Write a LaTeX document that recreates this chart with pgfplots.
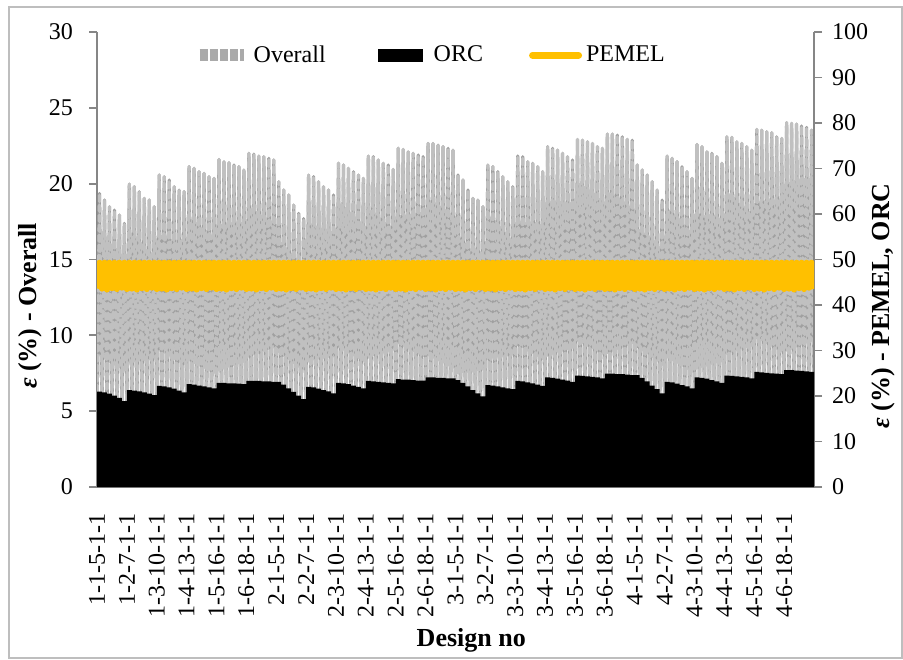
\documentclass[border=0pt]{standalone}
\usepackage{fontspec}
\setmainfont{Liberation Serif}
\usepackage{pgfplots}
\usepackage{pgfplotstable}
\pgfplotsset{compat=1.18}
\definecolor{ovgray}{RGB}{192,192,192}
\definecolor{ovdark}{RGB}{160,160,160}
\definecolor{ovleg}{RGB}{170,170,170}
\definecolor{axgray}{RGB}{134,134,134}
\definecolor{pemel}{RGB}{255,192,0}
\definecolor{framegray}{RGB}{190,190,190}

\pgfplotstableread[row sep=\\]{
x ov pe\\
0 5 43.6\\
0.5 19.36 49.3\\ 1 5 43.6\\ 1.5 18.92 49.3\\ 2 5 43.4\\ 2.5 18.48 49.3\\ 3 5 43.7\\ 3.5 18.26 49.3\\ 4 5 43.5\\ 4.5 17.93 49.3\\ 5 5 43.8\\ 5.5 17.38 49.3\\ 6 5 43.5\\
6.5 19.97 49.3\\ 7 5 43.6\\ 7.5 19.80 49.3\\ 8 5 43.4\\ 8.5 19.47 49.3\\ 9 5 43.7\\ 9.5 19.03 49.3\\ 10 5 43.5\\ 10.5 18.92 49.3\\ 11 5 43.8\\ 11.5 18.48 49.3\\ 12 5 43.5\\
12.5 20.57 49.3\\ 13 5 43.6\\ 13.5 20.46 49.3\\ 14 5 43.4\\ 14.5 20.24 49.3\\ 15 5 43.7\\ 15.5 19.80 49.3\\ 16 5 43.5\\ 16.5 19.58 49.3\\ 17 5 43.8\\ 17.5 19.47 49.3\\ 18 5 43.5\\
18.5 21.12 49.3\\ 19 5 43.6\\ 19.5 21.01 49.3\\ 20 5 43.4\\ 20.5 20.79 49.3\\ 21 5 43.7\\ 21.5 20.68 49.3\\ 22 5 43.5\\ 22.5 20.46 49.3\\ 23 5 43.8\\ 23.5 20.35 49.3\\ 24 5 43.5\\
24.5 21.60 49.3\\ 25 5 43.6\\ 25.5 21.45 49.3\\ 26 5 43.4\\ 26.5 21.38 49.3\\ 27 5 43.7\\ 27.5 21.23 49.3\\ 28 5 43.5\\ 28.5 21.12 49.3\\ 29 5 43.8\\ 29.5 20.90 49.3\\ 30 5 43.5\\
30.5 22.00 49.3\\ 31 5 43.6\\ 31.5 21.95 49.3\\ 32 5 43.4\\ 32.5 21.82 49.3\\ 33 5 43.7\\ 33.5 21.78 49.3\\ 34 5 43.5\\ 34.5 21.67 49.3\\ 35 5 43.8\\ 35.5 21.56 49.3\\ 36 5 43.5\\
36.5 20.13 49.3\\ 37 5 43.6\\ 37.5 19.58 49.3\\ 38 5 43.4\\ 38.5 19.25 49.3\\ 39 5 43.7\\ 39.5 18.59 49.3\\ 40 5 43.5\\ 40.5 18.04 49.3\\ 41 5 43.8\\ 41.5 17.70 49.3\\ 42 5 43.5\\
42.5 20.57 49.3\\ 43 5 43.6\\ 43.5 20.46 49.3\\ 44 5 43.4\\ 44.5 20.13 49.3\\ 45 5 43.7\\ 45.5 19.80 49.3\\ 46 5 43.5\\ 46.5 19.58 49.3\\ 47 5 43.8\\ 47.5 19.25 49.3\\ 48 5 43.5\\
48.5 21.34 49.3\\ 49 5 43.6\\ 49.5 21.23 49.3\\ 50 5 43.4\\ 50.5 21.01 49.3\\ 51 5 43.7\\ 51.5 20.79 49.3\\ 52 5 43.5\\ 52.5 20.57 49.3\\ 53 5 43.8\\ 53.5 20.35 49.3\\ 54 5 43.5\\
54.5 21.82 49.3\\ 55 5 43.6\\ 55.5 21.78 49.3\\ 56 5 43.4\\ 56.5 21.56 49.3\\ 57 5 43.7\\ 57.5 21.34 49.3\\ 58 5 43.5\\ 58.5 21.23 49.3\\ 59 5 43.8\\ 59.5 20.94 49.3\\ 60 5 43.5\\
60.5 22.33 49.3\\ 61 5 43.6\\ 61.5 22.26 49.3\\ 62 5 43.4\\ 62.5 22.10 49.3\\ 63 5 43.7\\ 63.5 22.00 49.3\\ 64 5 43.5\\ 64.5 21.89 49.3\\ 65 5 43.8\\ 65.5 21.78 49.3\\ 66 5 43.5\\
66.5 22.65 49.3\\ 67 5 43.6\\ 67.5 22.65 49.3\\ 68 5 43.4\\ 68.5 22.54 49.3\\ 69 5 43.7\\ 69.5 22.44 49.3\\ 70 5 43.5\\ 70.5 22.33 49.3\\ 71 5 43.8\\ 71.5 22.21 49.3\\ 72 5 43.5\\
72.5 20.57 49.3\\ 73 5 43.6\\ 73.5 20.24 49.3\\ 74 5 43.4\\ 74.5 19.58 49.3\\ 75 5 43.7\\ 75.5 19.03 49.3\\ 76 5 43.5\\ 76.5 18.92 49.3\\ 77 5 43.8\\ 77.5 18.48 49.3\\ 78 5 43.5\\
78.5 21.23 49.3\\ 79 5 43.6\\ 79.5 21.12 49.3\\ 80 5 43.4\\ 80.5 20.79 49.3\\ 81 5 43.7\\ 81.5 20.46 49.3\\ 82 5 43.5\\ 82.5 20.13 49.3\\ 83 5 43.8\\ 83.5 19.80 49.3\\ 84 5 43.5\\
84.5 21.82 49.3\\ 85 5 43.6\\ 85.5 21.78 49.3\\ 86 5 43.4\\ 86.5 21.45 49.3\\ 87 5 43.7\\ 87.5 21.34 49.3\\ 88 5 43.5\\ 88.5 21.12 49.3\\ 89 5 43.8\\ 89.5 20.79 49.3\\ 90 5 43.5\\
90.5 22.44 49.3\\ 91 5 43.6\\ 91.5 22.33 49.3\\ 92 5 43.4\\ 92.5 22.21 49.3\\ 93 5 43.7\\ 93.5 22.00 49.3\\ 94 5 43.5\\ 94.5 21.78 49.3\\ 95 5 43.8\\ 95.5 21.56 49.3\\ 96 5 43.5\\
96.5 22.92 49.3\\ 97 5 43.6\\ 97.5 22.87 49.3\\ 98 5 43.4\\ 98.5 22.76 49.3\\ 99 5 43.7\\ 99.5 22.65 49.3\\ 100 5 43.5\\ 100.5 22.44 49.3\\ 101 5 43.8\\ 101.5 22.33 49.3\\ 102 5 43.5\\
102.5 23.27 49.3\\ 103 5 43.6\\ 103.5 23.27 49.3\\ 104 5 43.4\\ 104.5 23.20 49.3\\ 105 5 43.7\\ 105.5 23.09 49.3\\ 106 5 43.5\\ 106.5 22.92 49.3\\ 107 5 43.8\\ 107.5 22.87 49.3\\ 108 5 43.5\\
108.5 21.23 49.3\\ 109 5 43.6\\ 109.5 20.90 49.3\\ 110 5 43.4\\ 110.5 20.57 49.3\\ 111 5 43.7\\ 111.5 20.13 49.3\\ 112 5 43.5\\ 112.5 19.58 49.3\\ 113 5 43.8\\ 113.5 18.92 49.3\\ 114 5 43.5\\
114.5 21.82 49.3\\ 115 5 43.6\\ 115.5 21.67 49.3\\ 116 5 43.4\\ 116.5 21.45 49.3\\ 117 5 43.7\\ 117.5 21.12 49.3\\ 118 5 43.5\\ 118.5 20.79 49.3\\ 119 5 43.8\\ 119.5 20.35 49.3\\ 120 5 43.5\\
120.5 22.59 49.3\\ 121 5 43.6\\ 121.5 22.44 49.3\\ 122 5 43.4\\ 122.5 22.10 49.3\\ 123 5 43.7\\ 123.5 22.00 49.3\\ 124 5 43.5\\ 124.5 21.78 49.3\\ 125 5 43.8\\ 125.5 21.34 49.3\\ 126 5 43.5\\
126.5 23.09 49.3\\ 127 5 43.6\\ 127.5 23.05 49.3\\ 128 5 43.4\\ 128.5 22.76 49.3\\ 129 5 43.7\\ 129.5 22.65 49.3\\ 130 5 43.5\\ 130.5 22.44 49.3\\ 131 5 43.8\\ 131.5 22.21 49.3\\ 132 5 43.5\\
132.5 23.58 49.3\\ 133 5 43.6\\ 133.5 23.53 49.3\\ 134 5 43.4\\ 134.5 23.42 49.3\\ 135 5 43.7\\ 135.5 23.36 49.3\\ 136 5 43.5\\ 136.5 23.09 49.3\\ 137 5 43.8\\ 137.5 22.98 49.3\\ 138 5 43.5\\
138.5 24.02 49.3\\ 139 5 43.6\\ 139.5 23.97 49.3\\ 140 5 43.4\\ 140.5 23.93 49.3\\ 141 5 43.7\\ 141.5 23.80 49.3\\ 142 5 43.5\\ 142.5 23.71 49.3\\ 143 5 43.8\\ 143.5 23.53 49.3\\ 144 5 43.5\\
}\tblA

\pgfplotstableread[row sep=\\]{
x orc\\
0 20.95\\
0.5 20.95\\ 1.5 20.8\\ 2.5 20.5\\ 3.5 20.1\\ 4.5 19.6\\ 5.5 18.9\\
6.5 21.3\\ 7.5 21.2\\ 8.5 21.0\\ 9.5 20.8\\ 10.5 20.5\\ 11.5 20.2\\
12.5 22.2\\ 13.5 22.1\\ 14.5 21.9\\ 15.5 21.6\\ 16.5 21.2\\ 17.5 20.8\\
18.5 22.6\\ 19.5 22.5\\ 20.5 22.3\\ 21.5 22.1\\ 22.5 21.9\\ 23.5 21.7\\
24.5 22.9\\ 25.5 22.9\\ 26.5 22.8\\ 27.5 22.8\\ 28.5 22.7\\ 29.5 22.6\\
30.5 23.3\\ 31.5 23.3\\ 32.5 23.3\\ 33.5 23.2\\ 34.5 23.2\\ 35.5 23.1\\
36.5 23.1\\ 37.5 22.5\\ 38.5 21.7\\ 39.5 20.9\\ 40.5 20.1\\ 41.5 19.3\\
42.5 22.0\\ 43.5 21.9\\ 44.5 21.6\\ 45.5 21.3\\ 46.5 21.0\\ 47.5 20.6\\
48.5 22.9\\ 49.5 22.8\\ 50.5 22.6\\ 51.5 22.3\\ 52.5 22.0\\ 53.5 21.7\\
54.5 23.3\\ 55.5 23.2\\ 56.5 23.1\\ 57.5 23.0\\ 58.5 22.9\\ 59.5 22.8\\
60.5 23.7\\ 61.5 23.6\\ 62.5 23.6\\ 63.5 23.5\\ 64.5 23.4\\ 65.5 23.4\\
66.5 24.1\\ 67.5 24.1\\ 68.5 24.0\\ 69.5 24.0\\ 70.5 23.9\\ 71.5 23.9\\
72.5 23.5\\ 73.5 22.9\\ 74.5 22.1\\ 75.5 21.3\\ 76.5 20.6\\ 77.5 19.9\\
78.5 22.4\\ 79.5 22.3\\ 80.5 22.1\\ 81.5 21.9\\ 82.5 21.7\\ 83.5 21.5\\
84.5 23.3\\ 85.5 23.2\\ 86.5 23.0\\ 87.5 22.8\\ 88.5 22.5\\ 89.5 22.2\\
90.5 24.1\\ 91.5 24.0\\ 92.5 23.8\\ 93.5 23.6\\ 94.5 23.4\\ 95.5 23.1\\
96.5 24.5\\ 97.5 24.4\\ 98.5 24.3\\ 99.5 24.2\\ 100.5 24.1\\ 101.5 23.9\\
102.5 24.9\\ 103.5 24.9\\ 104.5 24.8\\ 105.5 24.8\\ 106.5 24.7\\ 107.5 24.6\\
108.5 24.6\\ 109.5 24.0\\ 110.5 23.2\\ 111.5 22.3\\ 112.5 21.5\\ 113.5 20.6\\
114.5 23.1\\ 115.5 23.0\\ 116.5 22.7\\ 117.5 22.4\\ 118.5 22.1\\ 119.5 21.7\\
120.5 24.1\\ 121.5 24.0\\ 122.5 23.8\\ 123.5 23.5\\ 124.5 23.2\\ 125.5 22.9\\
126.5 24.5\\ 127.5 24.4\\ 128.5 24.3\\ 129.5 24.2\\ 130.5 24.1\\ 131.5 23.9\\
132.5 25.3\\ 133.5 25.2\\ 134.5 25.1\\ 135.5 25.0\\ 136.5 24.9\\ 137.5 24.8\\
138.5 25.7\\ 139.5 25.7\\ 140.5 25.6\\ 141.5 25.5\\ 142.5 25.4\\ 143.5 25.3\\
144 25.3\\
}\tblB

\begin{document}
\begin{tikzpicture}
\useasboundingbox (0,0) rectangle (451.5pt,329.5pt);
\draw[framegray, line width=0.7pt] (4.5pt,0.5pt) rectangle (451pt,326pt);
\pgfplotsset{common/.style={
  at={(48.5pt,86pt)}, anchor=south west, scale only axis,
  width=358.5pt, height=227.5pt, xmin=0, xmax=144,
  ticklabel style={font=\fontsize{12}{14}\selectfont},
  /pgf/number format/assume math mode=true,
  axis line style={axgray, line width=0.9pt},
  tick style={axgray, line width=0.9pt},
  tick align=outside, major tick length=4pt}}
\begin{axis}[common, ymin=0, ymax=30, ytick={0,5,...,30},
  axis x line*=bottom, axis y line*=left,
  xtick={0,6,...,138},
  xticklabels={1-1-5-1-1,1-2-7-1-1,1-3-10-1-1,1-4-13-1-1,1-5-16-1-1,1-6-18-1-1,
    2-1-5-1-1,2-2-7-1-1,2-3-10-1-1,2-4-13-1-1,2-5-16-1-1,2-6-18-1-1,
    3-1-5-1-1,3-2-7-1-1,3-3-10-1-1,3-4-13-1-1,3-5-16-1-1,3-6-18-1-1,
    4-1-5-1-1,4-2-7-1-1,4-3-10-1-1,4-4-13-1-1,4-5-16-1-1,4-6-18-1-1},
  xticklabel style={rotate=90, anchor=east, inner sep=0pt},
  xticklabel shift=9pt,
  x tick style={draw=none},
  yticklabel shift=4.5pt,
  xlabel={\textbf{Design no}},
  xlabel style={at={(axis description cs:0.522,-0.338)}, anchor=center, font=\fontsize{13}{15}\selectfont},
  ylabel={\textbf{\textit{ε} (\%) - Overall}},
  ylabel style={at={(axis description cs:-0.093,0.398)}, anchor=center, font=\fontsize{13}{15}\selectfont}]
\addplot[ovdark, line width=1.6pt, line cap=round, line join=round] table[x=x,y=ov]{\tblA};
\addplot[ovgray, line width=1.6pt, line cap=round, line join=round, dash pattern=on 3pt off 2pt] table[x=x,y=ov]{\tblA};
\end{axis}
\begin{axis}[common, ymin=0, ymax=100, ytick={0,10,...,100},
  axis x line=none, axis y line*=right, xtick=\empty,
  yticklabel shift=1.5pt,
  ylabel={\textbf{\textit{ε} (\%) - PEMEL, ORC}},
  ylabel style={at={(axis description cs:1.096,0.398)}, anchor=center, font=\fontsize{13}{15}\selectfont},
  legend style={at={(axis description cs:0.126,0.949)}, anchor=west, draw=none, fill=none,
    font=\fontsize{12}{14}\selectfont, /tikz/every even column/.append style={column sep=21pt}},
  legend columns=3]
\addlegendimage{legend image code/.code={\draw[ovleg, line width=6pt, dash pattern=on 4pt off 1pt] (0pt,0pt) -- (22pt,0pt);}}
\addlegendentry{Overall}
\addplot[fill=black, draw=none, const plot mark mid,
  legend image code/.code={\draw[black, line width=6.5pt] (0pt,0pt) -- (22.5pt,0pt);}]
  table[x=x,y=orc]{\tblB} \closedcycle;
\addlegendentry{ORC}
\addplot[pemel, line width=3pt, line join=round,
  legend image code/.code={\draw[pemel, line width=3.5pt, line cap=round] (0pt,0pt) -- (23pt,0pt);}]
  table[x=x,y=pe]{\tblA};
\addlegendentry{PEMEL}
\end{axis}
\end{tikzpicture}
\end{document}
